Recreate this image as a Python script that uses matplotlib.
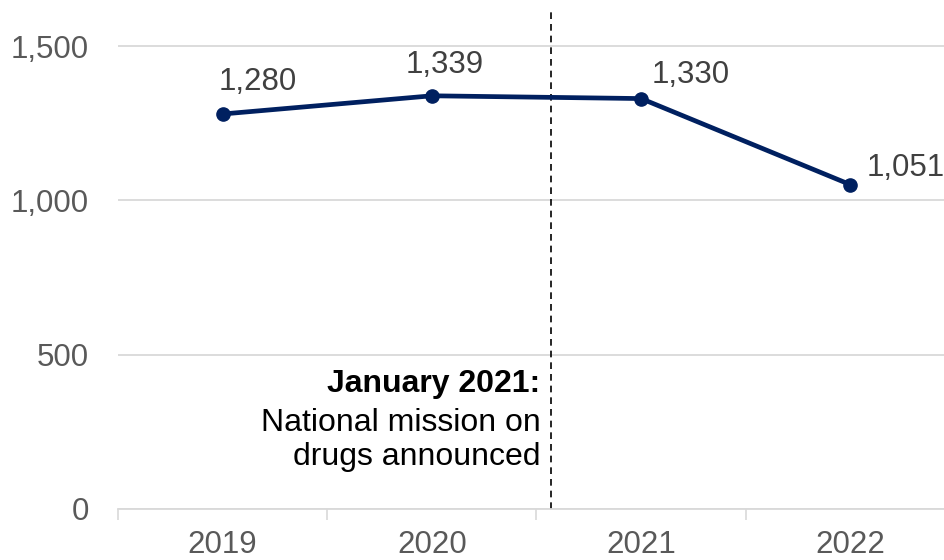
import matplotlib
matplotlib.use("Agg")
import matplotlib.pyplot as plt
from matplotlib.ticker import FuncFormatter

plt.rcParams['font.family'] = ['Liberation Sans', 'DejaVu Sans']

years = ["2019", "2020", "2021", "2022"]
values = [1280, 1339, 1330, 1051]
label_offsets = [(25, 23), (9, 22), (36, 17), (40, 12)]
yticks = [0, 500, 1000, 1500]

navy = "#002060"
grey_text = "#595959"
grid_col = "#d9d9d9"
fs = 22.5

fig = plt.figure(figsize=(9.45, 5.6), dpi=100)
ax = fig.add_axes([118/945, 51/560, 837/945, 499/560])

x = list(range(len(years)))
ax.plot(x, values, color=navy, lw=3.4, marker='o', ms=9.5, zorder=3, clip_on=False)

for xi, v, off in zip(x, values, label_offsets):
    ax.annotate(f"{v:,}", (xi, v), xytext=off, textcoords='offset points',
                ha='center', va='center', fontsize=fs, color="#404040")

ax.set_xlim(-0.5, 3.5)
ax.set_ylim(0, 1617)
ax.set_yticks(yticks)
ax.yaxis.set_major_formatter(FuncFormatter(lambda v, p: f"{int(v):,}"))
ax.set_xticks(x)
ax.set_xticklabels(years)
ax.set_xticks([-0.5, 0.5, 1.5, 2.5, 3.5], minor=True)

ax.tick_params(axis='x', which='major', length=0, pad=15, labelsize=fs, labelcolor=grey_text)
ax.tick_params(axis='x', which='minor', length=8, width=1.2, color=grid_col)
ax.tick_params(axis='y', length=0, pad=21, labelsize=fs, labelcolor=grey_text)

ax.grid(axis='y', color=grid_col, lw=1.3)
ax.set_axisbelow(True)
for s in ['top', 'right', 'left']:
    ax.spines[s].set_visible(False)
ax.spines['bottom'].set_color(grid_col)
ax.spines['bottom'].set_linewidth(1.3)

xe = 1.57
ax.axvline(xe, ymin=0, ymax=1, color='black', lw=1.2, ls=(0, (4, 3)), zorder=2)
ax.text(xe - 0.05, 405, "January 2021:", ha='right', va='center', fontsize=23, fontweight='bold')
ax.text(xe - 0.05, 225, "National mission on\ndrugs announced", ha='right', va='center',
        fontsize=23, linespacing=1.17)

fig.savefig("out.png", dpi=100)
